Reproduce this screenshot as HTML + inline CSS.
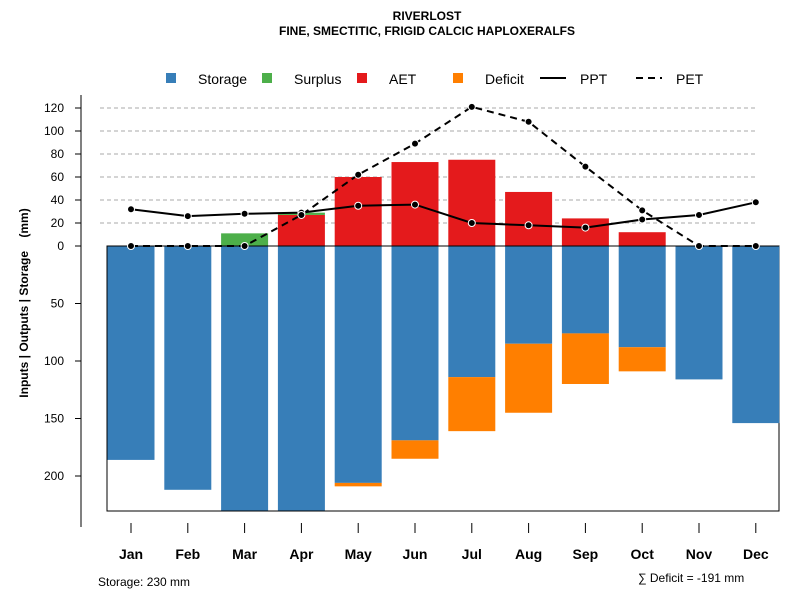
<!DOCTYPE html>
<html><head><meta charset="utf-8"><style>
body{margin:0;background:#fff;}
svg text{font-family:"Liberation Sans",sans-serif;}
</style></head><body>
<svg id="chart" width="800" height="600" xmlns="http://www.w3.org/2000/svg">
<text x="427" y="20" text-anchor="middle" font-size="12" font-weight="bold">RIVERLOST</text>
<text x="427" y="35" text-anchor="middle" font-size="12" font-weight="bold">FINE, SMECTITIC, FRIGID CALCIC HAPLOXERALFS</text>
<g>
<rect x="166" y="73" width="10" height="10" fill="#377eb8"/><text x="198" y="84" font-size="14">Storage</text>
<rect x="262" y="73" width="10" height="10" fill="#4daf4a"/><text x="294" y="84" font-size="14">Surplus</text>
<rect x="357" y="73" width="10" height="10" fill="#e41a1c"/><text x="389" y="84" font-size="14">AET</text>
<rect x="453" y="73" width="10" height="10" fill="#ff7f00"/><text x="485" y="84" font-size="14">Deficit</text>
<line x1="540" y1="78" x2="566" y2="78" stroke="#000" stroke-width="2"/><text x="580" y="84" font-size="14">PPT</text>
<line x1="636" y1="78" x2="662" y2="78" stroke="#000" stroke-width="2" stroke-dasharray="7,5"/><text x="676" y="84" font-size="14">PET</text>
</g>
<text transform="translate(28,303) rotate(-90)" text-anchor="middle" font-size="12" font-weight="bold" style="white-space:pre">Inputs | Outputs | Storage    (mm)</text>
<text x="98" y="586" font-size="12">Storage: 230 mm</text>
<text x="638" y="582" font-size="12">∑ Deficit = -191 mm</text>
<g id="plot"></g>
</svg>
<script>
const months=["Jan","Feb","Mar","Apr","May","Jun","Jul","Aug","Sep","Oct","Nov","Dec"];
const storage=[186,212,230,230,206,169,114,85,76,88,116,154];
const deficit=[0,0,0,0,3,16,47,60,44,21,0,0];
const surplus=[0,0,11,2,0,0,0,0,0,0,0,0];
const aet=[0,0,0,27,60,73,75,47,24,12,0,0];
const ppt=[32,26,28,29,35,36,20,18,16,23,27,38];
const pet=[0,0,0,27,62,89,121,108,69,31,0,0];
const posTicks=[0,20,40,60,80,100,120];
const negTicks=[50,100,150,200];
const NS="http://www.w3.org/2000/svg";
const g=document.getElementById("plot");
const X=i=>131+i*56.8;
const Y=v=>246-v*1.15;
function el(t,a,name){const e=document.createElementNS(NS,t);for(const k in a)e.setAttribute(k,a[k]);


g.appendChild(e);return e;}
posTicks.forEach(t=>{if(t>0)el("line",{x1:100,x2:756,y1:Y(t),y2:Y(t),stroke:"#aaa","stroke-dasharray":"4,3"},"gridline");});
el("rect",{x:107,y:246,width:672,height:265,fill:"none",stroke:"#000"},"plot-box");
const bw=47;
months.forEach((m,i)=>{
 el("rect",{x:X(i)-bw/2,y:246,width:bw,height:storage[i]*1.15,fill:"#377eb8"},"storage-bar-"+m.toLowerCase());
 if(deficit[i]>0)el("rect",{x:X(i)-bw/2,y:Y(-storage[i]),width:bw,height:deficit[i]*1.15,fill:"#ff7f00"},"deficit-bar-"+m.toLowerCase());
 if(aet[i]>0)el("rect",{x:X(i)-bw/2,y:Y(aet[i]),width:bw,height:aet[i]*1.15,fill:"#e41a1c"},"aet-bar-"+m.toLowerCase());
 if(surplus[i]>0)el("rect",{x:X(i)-bw/2,y:Y(aet[i]+surplus[i]),width:bw,height:surplus[i]*1.15,fill:"#4daf4a"},"surplus-bar-"+m.toLowerCase());
 el("line",{x1:X(i),x2:X(i),y1:523,y2:533,stroke:"#000"},"x-tick");
 const t=el("text",{x:X(i),y:559,"text-anchor":"middle","font-size":"14","font-weight":"bold"},"x-tick-label");t.textContent=m;
});
el("line",{x1:107,x2:779,y1:246,y2:246,stroke:"#000"},"zero-line");
el("line",{x1:81,x2:81,y1:95,y2:527,stroke:"#000"},"y-axis-line");
posTicks.forEach(t=>{el("line",{x1:75,x2:81,y1:Y(t),y2:Y(t),stroke:"#000"},"y-tick");
 const e=el("text",{x:64,y:Y(t)+4,"text-anchor":"end","font-size":"12"},"y-tick-label");e.textContent=t;});
negTicks.forEach(t=>{el("line",{x1:75,x2:81,y1:Y(-t),y2:Y(-t),stroke:"#000"},"y-tick");
 const e=el("text",{x:64,y:Y(-t)+4,"text-anchor":"end","font-size":"12"},"y-tick-label");e.textContent=t;});
el("polyline",{points:ppt.map((v,i)=>X(i)+","+Y(v)).join(" "),fill:"none",stroke:"#000","stroke-width":2},"ppt-line");
el("polyline",{points:pet.map((v,i)=>X(i)+","+Y(v)).join(" "),fill:"none",stroke:"#000","stroke-width":2,"stroke-dasharray":"7,5"},"pet-line");
ppt.forEach((v,i)=>el("circle",{cx:X(i),cy:Y(v),r:3.5,fill:"#000",stroke:"#fff","stroke-width":1},"ppt-point"));
pet.forEach((v,i)=>el("circle",{cx:X(i),cy:Y(v),r:3.5,fill:"#000",stroke:"#fff","stroke-width":1},"pet-point"));
</script>
</body></html>
